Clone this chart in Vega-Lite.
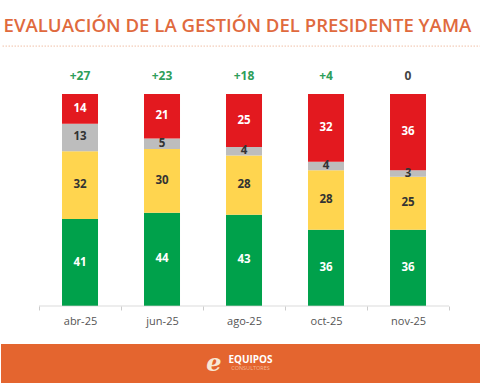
{
  "$schema": "https://vega.github.io/schema/vega-lite/v6.json",
  "padding": {"left": 0, "top": 16, "right": 0, "bottom": 0},
  "background": "white",
  "config": {"view": {"stroke": null}, "font": "Open Sans"},
  "title": {
    "text": "EVALUACIÓN DE LA GESTIÓN DEL PRESIDENTE YAMA",
    "anchor": "start",
    "frame": "bounds",
    "dx": 3,
    "offset": 10,
    "fontSize": 18.6,
    "fontWeight": 600,
    "font": "Open Sans",
    "color": "#E06A3E"
  },
  "spacing": 0,
  "vconcat": [
    {
      "width": 480,
      "height": 212,
      "layer": [
        {
          "data": {"name": "encuesta"},
          "transform": [
            {"stack": "pct", "groupby": ["mes"], "sort": [{"field": "orden", "order": "ascending"}], "as": ["y0", "y1"]}
          ],
          "mark": {"type": "bar", "width": 36},
          "encoding": {
            "x": {
              "field": "mes",
              "type": "nominal",
              "sort": ["abr-25", "jun-25", "ago-25", "oct-25", "nov-25"],
              "scale": {"paddingInner": 0, "paddingOuter": 0.4268, "align": 0.543},
              "axis": {
                "title": null,
                "labelAngle": 0,
                "labelColor": "#555555",
                "labelFontSize": 11,
                "labelFont": "Open Sans",
                "labelPadding": 5,
                "domain": false,
                "tickColor": "#cccccc",
                "tickBand": "extent",
                "tickSize": 4,
                "minExtent": 38,
                "maxExtent": 38
              }
            },
            "y": {
              "field": "y0",
              "type": "quantitative",
              "scale": {"domain": [0, 100], "nice": false},
              "axis": null
            },
            "y2": {"field": "y1"},
            "color": {
              "field": "cat",
              "type": "nominal",
              "scale": {
                "domain": ["Aprueba", "Ni aprueba ni desaprueba", "No sabe / No contesta", "Desaprueba"],
                "range": ["#00A14B", "#FFD54F", "#BDBDBD", "#E3191F"]
              },
              "legend": null
            }
          }
        },
        {
          "data": {"values": [{"separador": 1}]},
          "mark": {"type": "rule", "color": "#F0C0A8", "strokeWidth": 1, "strokeDash": [1.5, 1.5], "clip": false},
          "encoding": {
            "y": {"datum": 122.6, "type": "quantitative"}
          }
        },
        {
          "data": {"name": "neto"},
          "mark": {"type": "tick", "orient": "horizontal", "size": 82, "thickness": 1, "color": "#cccccc"},
          "encoding": {
            "x": {"field": "mes", "type": "nominal", "sort": ["abr-25", "jun-25", "ago-25", "oct-25", "nov-25"]},
            "y": {"datum": 0, "type": "quantitative"}
          }
        },
        {
          "data": {"name": "encuesta"},
          "transform": [
            {"stack": "pct", "groupby": ["mes"], "sort": [{"field": "orden", "order": "ascending"}], "as": ["y0", "y1"]},
            {"calculate": "(datum.y0 + datum.y1) / 2", "as": "ymid"}
          ],
          "mark": {"type": "text", "fontSize": 11.5, "fontWeight": 700, "font": "Open Sans", "baseline": "middle"},
          "encoding": {
            "x": {"field": "mes", "type": "nominal", "sort": ["abr-25", "jun-25", "ago-25", "oct-25", "nov-25"]},
            "y": {"field": "ymid", "type": "quantitative"},
            "text": {"field": "pct", "type": "quantitative"},
            "color": {
              "condition": {"test": "datum.cat === 'Aprueba' || datum.cat === 'Desaprueba'", "value": "#ffffff"},
              "value": "#333333"
            }
          }
        },
        {
          "data": {"name": "neto"},
          "mark": {"type": "text", "fontSize": 12, "fontWeight": 700, "font": "Open Sans", "baseline": "middle", "dy": -18},
          "encoding": {
            "x": {"field": "mes", "type": "nominal", "sort": ["abr-25", "jun-25", "ago-25", "oct-25", "nov-25"]},
            "y": {"datum": 100, "type": "quantitative"},
            "text": {"field": "neto"},
            "color": {
              "condition": {"test": "datum.neto !== '0'", "value": "#2E9E5A"},
              "value": "#444444"
            }
          }
        }
      ]
    },
    {
      "width": 480,
      "height": 39,
      "view": {"fill": "#E4652F", "stroke": null},
      "data": {"values": [{"logo": "e", "marca": "EQUIPOS", "sub": "CONSULTORES"}]},
      "layer": [
        {
          "mark": {"type": "text", "font": "DejaVu Serif", "fontStyle": "italic", "fontWeight": "bold", "fontSize": 24, "color": "#F8E8D4", "dx": -27, "dy": 0, "baseline": "middle"},
          "encoding": {"text": {"field": "logo"}}
        },
        {
          "mark": {"type": "text", "font": "Open Sans", "fontSize": 10, "fontWeight": 700, "color": "#ffffff", "dx": 9.5, "dy": -4, "baseline": "middle"},
          "encoding": {"text": {"field": "marca"}}
        },
        {
          "mark": {"type": "text", "font": "Open Sans", "fontSize": 5.5, "color": "#F6B794", "dx": 9.5, "dy": 4.5, "baseline": "middle"},
          "encoding": {"text": {"field": "sub"}}
        }
      ]
    }
  ],
  "datasets": {
    "encuesta": [
      {"mes": "abr-25", "cat": "Aprueba", "orden": 1, "pct": 41},
      {"mes": "abr-25", "cat": "Ni aprueba ni desaprueba", "orden": 2, "pct": 32},
      {"mes": "abr-25", "cat": "No sabe / No contesta", "orden": 3, "pct": 13},
      {"mes": "abr-25", "cat": "Desaprueba", "orden": 4, "pct": 14},
      {"mes": "jun-25", "cat": "Aprueba", "orden": 1, "pct": 44},
      {"mes": "jun-25", "cat": "Ni aprueba ni desaprueba", "orden": 2, "pct": 30},
      {"mes": "jun-25", "cat": "No sabe / No contesta", "orden": 3, "pct": 5},
      {"mes": "jun-25", "cat": "Desaprueba", "orden": 4, "pct": 21},
      {"mes": "ago-25", "cat": "Aprueba", "orden": 1, "pct": 43},
      {"mes": "ago-25", "cat": "Ni aprueba ni desaprueba", "orden": 2, "pct": 28},
      {"mes": "ago-25", "cat": "No sabe / No contesta", "orden": 3, "pct": 4},
      {"mes": "ago-25", "cat": "Desaprueba", "orden": 4, "pct": 25},
      {"mes": "oct-25", "cat": "Aprueba", "orden": 1, "pct": 36},
      {"mes": "oct-25", "cat": "Ni aprueba ni desaprueba", "orden": 2, "pct": 28},
      {"mes": "oct-25", "cat": "No sabe / No contesta", "orden": 3, "pct": 4},
      {"mes": "oct-25", "cat": "Desaprueba", "orden": 4, "pct": 32},
      {"mes": "nov-25", "cat": "Aprueba", "orden": 1, "pct": 36},
      {"mes": "nov-25", "cat": "Ni aprueba ni desaprueba", "orden": 2, "pct": 25},
      {"mes": "nov-25", "cat": "No sabe / No contesta", "orden": 3, "pct": 3},
      {"mes": "nov-25", "cat": "Desaprueba", "orden": 4, "pct": 36}
    ],
    "neto": [
      {"mes": "abr-25", "neto": "+27"},
      {"mes": "jun-25", "neto": "+23"},
      {"mes": "ago-25", "neto": "+18"},
      {"mes": "oct-25", "neto": "+4"},
      {"mes": "nov-25", "neto": "0"}
    ]
  }
}
